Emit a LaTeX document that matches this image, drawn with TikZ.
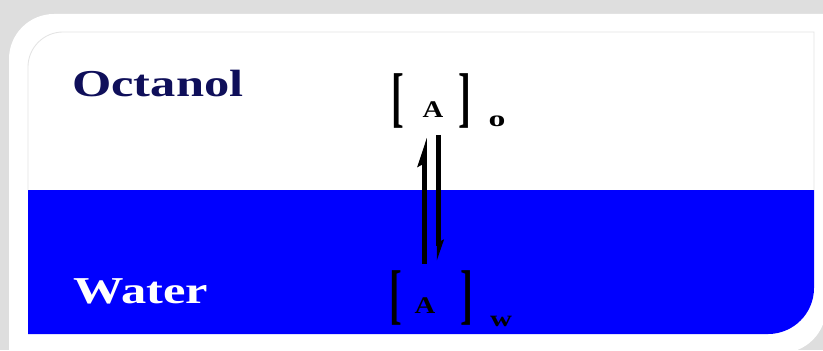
\documentclass[tikz,border=0pt]{standalone}
\usepackage{fontspec}
\setmainfont{Liberation Serif}
\usepackage{graphicx}
\usetikzlibrary{arrows.meta, positioning, calc}
\definecolor{biruAir}{RGB}{0,0,255}
\definecolor{navyOktanol}{RGB}{15,15,90}
\definecolor{abuLatar}{RGB}{222,222,222}
\definecolor{abuTepi}{RGB}{228,228,228}
\newcommand{\lebar}[2]{\scalebox{#1}[1]{#2}}

\begin{document}
\begin{tikzpicture}[
  x=0.025cm, y=0.025cm,
  fase/.style={inner sep=0, font=\bfseries\fontsize{27}{27}\selectfont, anchor=base west},
  kurung/.style={inner sep=0, font=\bfseries\fontsize{47}{47}\selectfont},
  zat/.style={inner sep=0, font=\bfseries\fontsize{17}{17}\selectfont},
  indeks/.style={inner sep=0, font=\bfseries\fontsize{16}{16}\selectfont},
  panah/.style={line width=3.5pt, -{Stealth[harpoon, length=0.55cm, width=0.34cm, inset=0.08cm]}},
  panahBawah/.style={line width=3.5pt, -{Stealth[harpoon, length=0.4cm, width=0.26cm, inset=0.06cm]}}
]
  \useasboundingbox (0,0) rectangle (823,350);
  \clip (0,0) rectangle (823,350);

  % latar dan bingkai
  \fill[abuLatar] (0,0) rectangle (823,350);
  \fill[white] (9,-10) -- (9,291) arc[start angle=180, end angle=90, radius=1.125cm]
    -- (826,336) -- (826,42) arc[start angle=0, end angle=-90, radius=1.125cm]
    -- (9,-3) -- cycle;
  \fill[biruAir] (28,160) -- (814,160) -- (814,62) arc[start angle=0, end angle=-90, radius=1.15cm]
    -- (28,16) -- cycle;
  \draw[abuTepi, line width=0.6pt] (28,160) -- (28,283) arc[start angle=180, end angle=90, radius=0.875cm]
    -- (814,318) -- (814,160);

  % label fase
  \node[fase, text=navyOktanol] (okt) at (72,253) {\lebar{1.33}{Octanol}};
  \node[fase, text=white] (air) at (73,47) {\lebar{1.33}{Water}};

  % [A]o
  \node[kurung] (lbo) at (397.5,249.5) {\lebar{0.58}{[}};
  \node[zat] (Ao) at (433,240) {\lebar{1.2}{A}};
  \node[kurung] (rbo) at (465,249.5) {\lebar{0.58}{]}};
  \node[indeks] (io) at (497,229) {\lebar{1.5}{o}};

  % [A]w
  \node[kurung] (lbw) at (396,52.5) {\lebar{0.58}{[}};
  \node[zat] (Aw) at (425,44.5) {\lebar{1.2}{A}};
  \node[kurung] (rbw) at (467,52.5) {\lebar{0.58}{]}};
  \node[indeks] (iw) at (501,29) {\lebar{1.35}{w}};

  \coordinate (naik) at (424.5,0);
  \coordinate (turun) at (438.5,0);
  \draw[panah, shorten <=0.15cm, shorten >=0.22cm] (lbw.north -| naik) -- (lbo.south -| naik);
  \draw[panahBawah, shorten <=0.17cm, shorten >=0.22cm] (lbo.south -| turun) -- (lbw.north -| turun);
\end{tikzpicture}
\end{document}
